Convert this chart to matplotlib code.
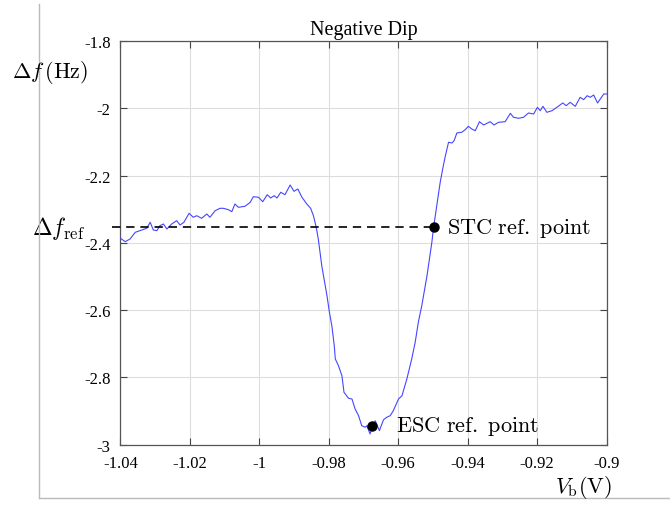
import numpy as np
import matplotlib.pyplot as plt
from matplotlib.lines import Line2D

plt.rcParams['font.family'] = ['Liberation Serif', 'DejaVu Serif']
plt.rcParams['mathtext.fontset'] = 'cm'
plt.rcParams['axes.unicode_minus'] = False

# bias voltage (V) and frequency shift (Hz)
vb = [-1.0400, -1.0386, -1.0372, -1.0357, -1.0338, -1.0324, -1.0314, -1.0305,
      -1.0295, -1.0286, -1.0276, -1.0266, -1.0252, -1.0238, -1.0228, -1.0217,
      -1.0202, -1.0190, -1.0180, -1.0166, -1.0151, -1.0142, -1.0127, -1.0113,
      -1.0103, -1.0089, -1.0079, -1.0070, -1.0060, -1.0041, -1.0026, -1.0017,
      -1.0002, -0.9990, -0.9977, -0.9967, -0.9957, -0.9949, -0.9938, -0.9926,
      -0.9911, -0.9900, -0.9889, -0.9877, -0.9863, -0.9852, -0.9844, -0.9836,
      -0.9830, -0.9820, -0.9805, -0.9798, -0.9791, -0.9784, -0.9781, -0.9772,
      -0.9762, -0.9756, -0.9743, -0.9733, -0.9724, -0.9714, -0.9705, -0.9695,
      -0.9690, -0.9681, -0.9671, -0.9666, -0.9660, -0.9654, -0.9647, -0.9642,
      -0.9633, -0.9623, -0.9614, -0.9599, -0.9589, -0.9575, -0.9561, -0.9551,
      -0.9542, -0.9532, -0.9517, -0.9503, -0.9498, -0.9489, -0.9479, -0.9470,
      -0.9465, -0.9455, -0.9445, -0.9439, -0.9431, -0.9417, -0.9407, -0.9398,
      -0.9388, -0.9378, -0.9366, -0.9354, -0.9335, -0.9324, -0.9311, -0.9292,
      -0.9277, -0.9268, -0.9253, -0.9239, -0.9225, -0.9210, -0.9199, -0.9191,
      -0.9183, -0.9172, -0.9157, -0.9143, -0.9126, -0.9116, -0.9105, -0.9090,
      -0.9076, -0.9066, -0.9056, -0.9047, -0.9037, -0.9026, -0.9018, -0.9008,
      -0.9000]
df = [-2.3860, -2.3964, -2.3884, -2.3685, -2.3617, -2.3566, -2.3388, -2.3617,
      -2.3637, -2.3489, -2.3438, -2.3587, -2.3438, -2.3340, -2.3468, -2.3388,
      -2.3120, -2.3239, -2.3192, -2.3269, -2.3141, -2.3239, -2.3043, -2.2972,
      -2.2972, -2.3013, -2.3073, -2.2844, -2.2942, -2.2912, -2.2793, -2.2627,
      -2.2645, -2.2776, -2.2568, -2.2666, -2.2597, -2.2666, -2.2496, -2.2568,
      -2.2279, -2.2467, -2.2398, -2.2645, -2.2844, -2.2972, -2.3192, -2.3536,
      -2.3884, -2.4678, -2.5569, -2.6062, -2.6461, -2.7055, -2.7450, -2.7649,
      -2.7946, -2.8440, -2.8618, -2.8639, -2.8936, -2.9135, -2.9432, -2.9480,
      -2.9432, -2.9679, -2.9382, -2.9284, -2.9432, -2.9581, -2.9382, -2.9254,
      -2.9183, -2.9135, -2.8987, -2.8639, -2.8541, -2.8045, -2.7450, -2.6954,
      -2.6360, -2.5866, -2.4975, -2.3982, -2.3536, -2.2895, -2.2199, -2.1706,
      -2.1456, -2.1010, -2.1031, -2.0963, -2.0734, -2.0713, -2.0636, -2.0535,
      -2.0615, -2.0666, -2.0398, -2.0496, -2.0398, -2.0496, -2.0416, -2.0398,
      -2.0149, -2.0267, -2.0297, -2.0267, -2.0140, -2.0169, -1.9970, -2.0071,
      -1.9941, -2.0119, -2.0071, -1.9970, -1.9842, -1.9923, -1.9822, -1.9941,
      -1.9673, -1.9744, -1.9626, -1.9673, -1.9605, -1.9842, -1.9724, -1.9575,
      -1.9575]

# reference points
stc_point = (-0.9498, -2.3536)
esc_point = (-0.9674, -2.9430)
dashed_start = -1.0425

xticks = [-1.04, -1.02, -1, -0.98, -0.96, -0.94, -0.92, -0.9]
xtick_labels = ['-1.04', '-1.02', '-1', '-0.98', '-0.96', '-0.94', '-0.92', '-0.9']
yticks = [-3, -2.8, -2.6, -2.4, -2.2, -2, -1.8]
ytick_labels = ['-3', '-2.8', '-2.6', '-2.4', '-2.2', '-2', '-1.8']

fig = plt.figure(figsize=(6.7, 5.06), dpi=100)
ax = fig.add_axes([0.1796, 0.119, 0.7257, 0.798])

ax.plot(vb, df, color='#4646ff', lw=0.8, zorder=3)
ax.plot([dashed_start, stc_point[0]], [stc_point[1], stc_point[1]],
        color='black', lw=1.2, ls=(0, (5, 3.5)), clip_on=False, zorder=4)
ax.plot(*stc_point, 'o', color='black', ms=6.5, zorder=5)
ax.plot(*esc_point, 'o', color='black', ms=6.5, zorder=5)

ax.set_xlim(-1.04, -0.9)
ax.set_ylim(-3, -1.8)
ax.set_xticks(xticks)
ax.set_xticklabels(xtick_labels)
ax.set_yticks(yticks)
ax.set_yticklabels(ytick_labels)
ax.tick_params(direction='in', length=5, width=0.8, top=True, right=True,
               labelsize=12, color='#444444', pad=7)
ax.grid(True, color='#dddddd', lw=0.8)
ax.set_axisbelow(True)
for sp in ax.spines.values():
    sp.set_color('#555555')
    sp.set_linewidth(0.9)

ax.set_title('Negative Dip', fontsize=14.5, pad=5)

ax.text(stc_point[0] + 0.0040, stc_point[1], r'$\mathrm{STC\ ref.\ point}$',
        fontsize=16, va='center', ha='left')
ax.text(esc_point[0] + 0.0069, esc_point[1], r'$\mathrm{ESC\ ref.\ point}$',
        fontsize=16, va='center', ha='left')
ax.text(-1.0502, stc_point[1], r'$\Delta f_{\mathrm{ref}}$', fontsize=17,
        va='center', ha='right', clip_on=False)

fig.text(0.018, 0.856, r'$\Delta f\,(\mathrm{Hz})$', fontsize=16, va='center', ha='left')
fig.text(0.913, 0.036, r'$V_{\mathrm{b}}(\mathrm{V})$', fontsize=16, va='center', ha='right')

# outer frame lines
fig.add_artist(Line2D([0.0575, 0.0575], [0.014, 0.99], color='#bbbbbb', lw=1))
fig.add_artist(Line2D([0.0575, 1.0], [0.014, 0.014], color='#bbbbbb', lw=1))

fig.savefig('out.png', dpi=100)
